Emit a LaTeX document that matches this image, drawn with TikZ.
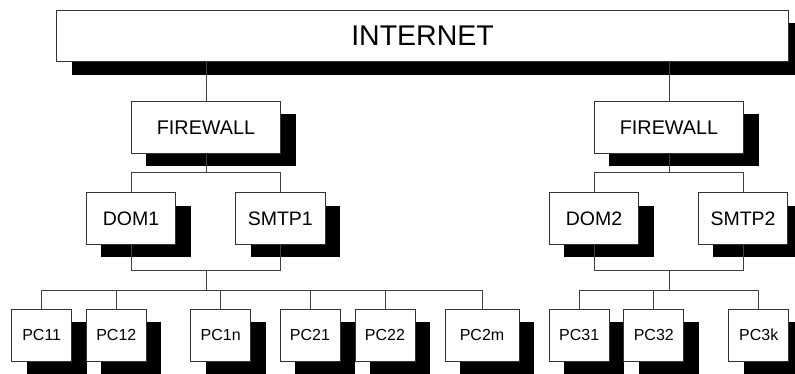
\documentclass[tikz,border=0pt]{standalone}
\usepackage{fontspec}
\setmainfont{Liberation Sans}
\usetikzlibrary{shadows}
\begin{document}
\begin{tikzpicture}[x=1pt,y=-1pt,
  box/.style={draw=black!80, line width=0.8pt, fill=white, inner sep=0pt,
    drop shadow={shadow xshift=15pt, shadow yshift=-13pt, opacity=1, fill=black}},
  conn/.style={draw=black!75, line width=0.8pt},
  bigbox/.style={box, minimum width=731.6pt, minimum height=51.7pt, font=\fontsize{28.5}{32}\selectfont},
  fwbox/.style={box, minimum width=149.5pt, minimum height=52pt, font=\fontsize{19.8}{22}\selectfont},
  srvbox/.style={box, minimum width=89.5pt, minimum height=51.5pt, font=\fontsize{19.5}{22}\selectfont},
  pcbox/.style={box, minimum width=60pt, minimum height=51.7pt, font=\fontsize{16}{18}\selectfont}]
\useasboundingbox (0,0) rectangle (795,374);
\clip (0,0) rectangle (795,374);
\node[bigbox] (inet) at (422.5,35.85) {INTERNET};
\node[fwbox] (fw1) at (206,127.2) {FIREWALL};
\node[fwbox] (fw2) at (669,127.2) {FIREWALL};
\node[srvbox] (dom1) at (131,218.3) {DOM1};
\node[srvbox] (smtp1) at (280.3,218.3) {SMTP1};
\node[srvbox] (dom2) at (594,218.3) {DOM2};
\node[srvbox] (smtp2) at (743,218.3) {SMTP2};
\node[pcbox] (pc11) at (41.7,335.2) {PC11};
\node[pcbox] (pc12) at (116.3,335.2) {PC12};
\node[pcbox] (pc1n) at (220.7,335.2) {PC1n};
\node[pcbox] (pc21) at (310,335.2) {PC21};
\node[pcbox] (pc22) at (385,335.2) {PC22};
\node[pcbox, minimum width=74pt] (pc2m) at (482,335.2) {PC2m};
\node[pcbox] (pc31) at (579.2,335.2) {PC31};
\node[pcbox] (pc32) at (653.8,335.2) {PC32};
\node[pcbox] (pc3k) at (758.7,335.2) {PC3k};
\coordinate (busA) at (0,172.3);
\coordinate (busB) at (0,270);
\coordinate (busC) at (0,290);
% internet to firewalls
\draw[conn] (inet.south -| fw1.north) -- (fw1.north);
\draw[conn] (inet.south -| fw2.north) -- (fw2.north);
% firewalls to servers
\draw[conn] (fw1.south) -- (fw1.south |- busA);
\draw[conn] (dom1.north) |- (smtp1.north |- busA) -- (smtp1.north);
\draw[conn] (fw2.south) -- (fw2.south |- busA);
\draw[conn] (dom2.north) |- (smtp2.north |- busA) -- (smtp2.north);
% servers to lower bus
\draw[conn] (dom1.south) |- (smtp1.south |- busB) -- (smtp1.south);
\draw[conn] (fw1.south |- busB) -- (fw1.south |- busC);
\draw[conn] (dom2.south) |- (smtp2.south |- busB) -- (smtp2.south);
\draw[conn] (fw2.south |- busB) -- (fw2.south |- busC);
% PC bus left
\draw[conn] (pc11.north) |- (pc2m.north |- busC) -- (pc2m.north);
\foreach \p in {pc12,pc1n,pc21,pc22}
  \draw[conn] (\p.north) -- (\p.north |- busC);
% PC bus right
\draw[conn] (pc31.north) |- (pc3k.north |- busC) -- (pc3k.north);
\draw[conn] (pc32.north) -- (pc32.north |- busC);
\end{tikzpicture}
\end{document}
